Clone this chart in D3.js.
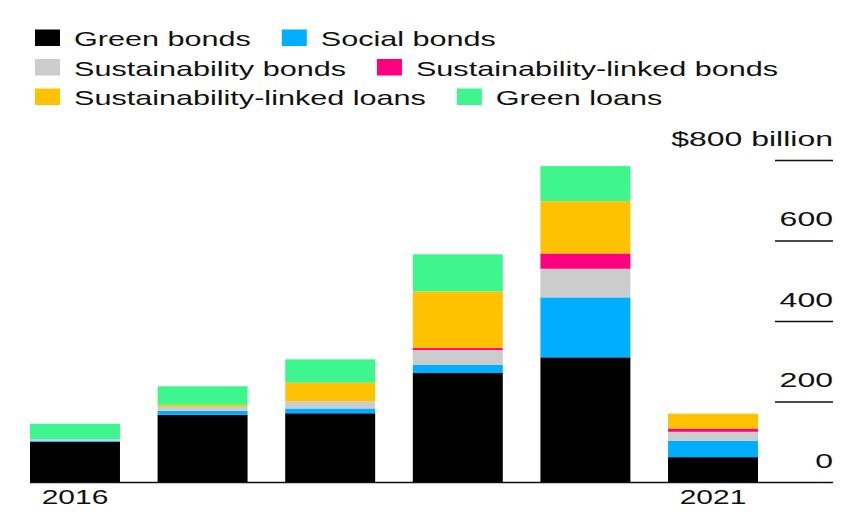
<!DOCTYPE html>
<html>
<meta charset="utf-8">
<head>
<style>
body { margin: 0; background: #fff; }
svg text { font-family: "Liberation Sans", Arial, sans-serif; font-size: 20px; fill: #111; }
.grid line { stroke: #111; stroke-width: 1.6; }
.baseline { stroke: #111; stroke-width: 1.6; }
</style>
</head>
<body>
<svg width="857" height="518"></svg>

<script src="https://d3js.org/d3.v7.min.js"></script>
<script>

// values in $ billion
var years = ["2016", "2017", "2018", "2019", "2020", "2021"];
var yearLabels = ["2016", "", "", "", "", "2021"];
var seriesNames = ["Green bonds", "Social bonds", "Sustainability bonds",
  "Sustainability-linked bonds", "Sustainability-linked loans", "Green loans"];
var seriesColors = ["#000000", "#00aeff", "#cccccc", "#ff0080", "#ffc200", "#3ff58e"];

var greenBonds   = [101, 168, 172, 272, 311, 63];
var socialBonds  = [3, 10, 12, 20, 149, 41];
var sustBonds    = [4, 10, 18, 37, 71, 22];
var slBonds      = [0, 0, 0, 5, 38, 8];
var slLoans      = [0, 5, 46, 141, 130, 37];
var greenLoans   = [38, 46, 58, 92, 87, 0];

var yTicks = [0, 200, 400, 600, 800];
var yTickLabels = ["0", "200", "400", "600", "$800 billion"];

var svg = d3.select("svg");

// the source font is much wider than Arial, so text is stretched horizontally
var legendStretch = 1.53, axisStretch = 1.6, yearStretch = 1.5;

var allSeries = [greenBonds, socialBonds, sustBonds, slBonds, slLoans, greenLoans];
var table = years.map(function(y, i) {
  var row = { year: y };
  seriesNames.forEach(function(s, j) { row[s] = allSeries[j][i]; });
  return row;
});

var stack = d3.stack().keys(seriesNames)(table);

var x = d3.scaleBand().domain(years).range([30, 758]).paddingInner(0.295).paddingOuter(0);
var y = d3.scaleLinear().domain([0, 800]).range([482.5, 160.5]);
var color = d3.scaleOrdinal().domain(seriesNames).range(seriesColors);

// bars
svg.append("g").selectAll("g")
  .data(stack)
  .enter().append("g")
  .attr("fill", function(d) { return color(d.key); })
  .selectAll("rect")
  .data(function(d) { return d; })
  .enter().append("rect")
  .attr("x", function(d) { return x(d.data.year); })
  .attr("width", x.bandwidth())
  .attr("y", function(d) { return y(d[1]); })
  .attr("height", function(d) { return Math.max(0, y(d[0]) - y(d[1])); });

// short gridlines + labels on the right
var grid = svg.append("g").attr("class", "grid");
grid.selectAll("line")
  .data(yTicks.filter(function(t) { return t > 0; }))
  .enter().append("line")
  .attr("x1", 775).attr("x2", 833)
  .attr("y1", function(d) { return y(d); })
  .attr("y2", function(d) { return y(d); });

grid.selectAll("text")
  .data(yTicks)
  .enter().append("text")
  .attr("text-anchor", "end")
  .attr("transform", function(d) {
    return "translate(833," + (y(d) - 15) + ") scale(" + axisStretch + ",1)";
  })
  .text(function(d, i) { return yTickLabels[i]; });

// baseline
svg.append("line")
  .attr("class", "baseline")
  .attr("x1", 30).attr("x2", 833)
  .attr("y1", y(0)).attr("y2", y(0));

// year labels
svg.append("g").selectAll("text")
  .data(years)
  .enter().append("text")
  .attr("text-anchor", "middle")
  .attr("transform", function(d) {
    return "translate(" + (x(d) + x.bandwidth() / 2) + ",504) scale(" + yearStretch + ",1)";
  })
  .text(function(d, i) { return yearLabels[i]; });

// legend, flowed in three rows
var legendRows = [[0, 1], [2, 3], [4, 5]];
var legend = svg.append("g");
legendRows.forEach(function(row, r) {
  var base = 46 + r * 29.5;
  var lx = 35;
  row.forEach(function(k) {
    legend.append("rect")
      .attr("x", lx).attr("y", base - 16.5)
      .attr("width", 25).attr("height", 16.5)
      .attr("fill", seriesColors[k]);
    var t = legend.append("text")
      .attr("transform", "translate(" + (lx + 39) + "," + base + ") scale(" + legendStretch + ",1)")
      .text(seriesNames[k]);
    var w = t.node().getComputedTextLength() * legendStretch;
    lx = lx + 39 + w + 31;
  });
});

</script>
</body>
</html>
